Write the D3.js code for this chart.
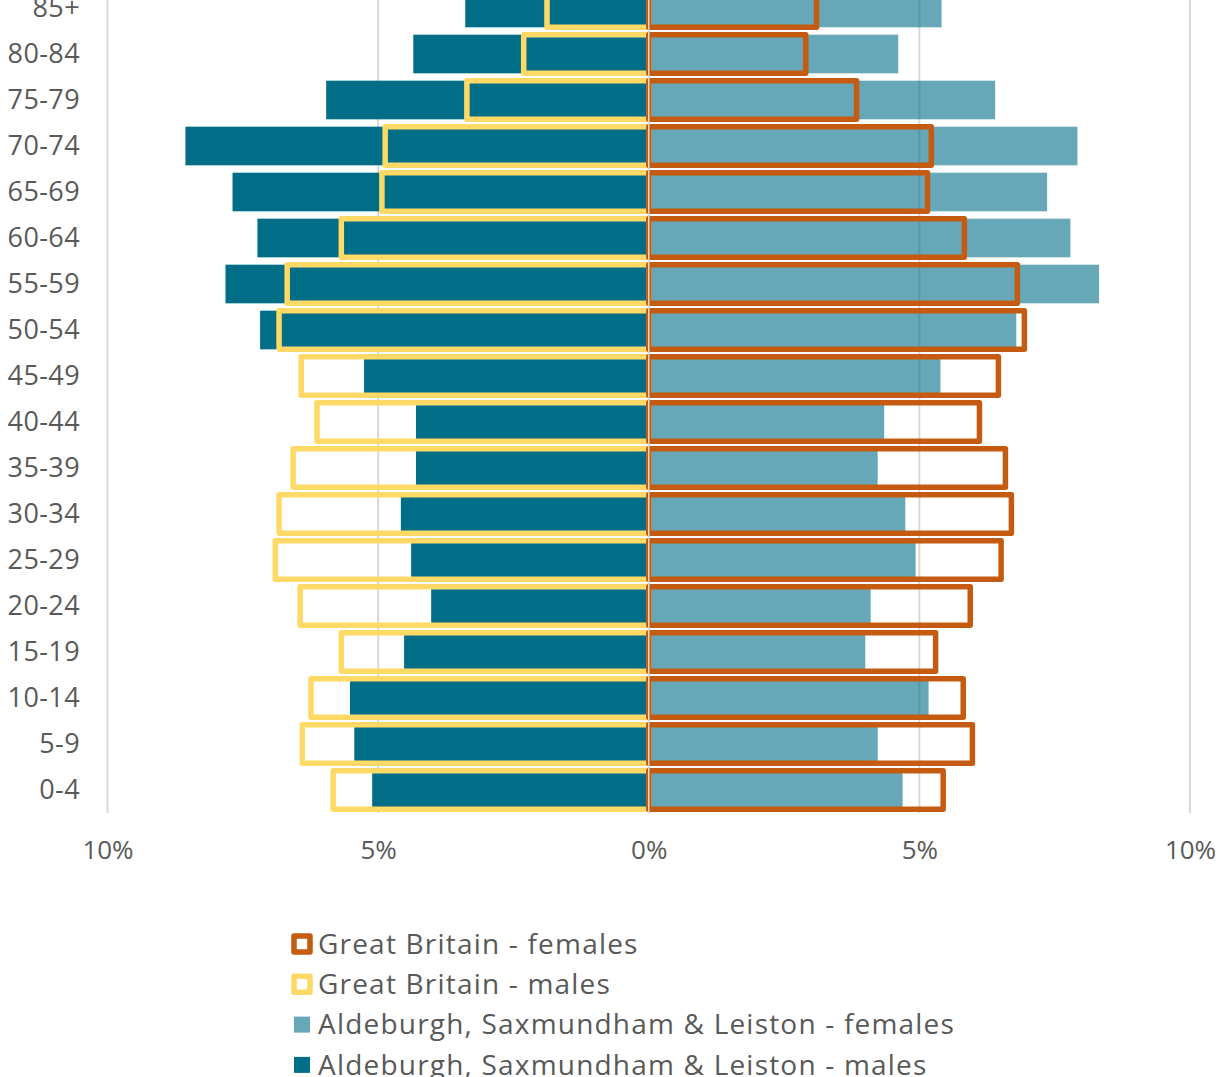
<!DOCTYPE html>
<html>
<head>
<meta charset="utf-8">
<script src="https://cdn.jsdelivr.net/npm/d3@7"></script>
<style>
  body { margin: 0; background: #fff; overflow: hidden; }
  text { font-family: "Open Sans", "Lato", sans-serif; fill: #595959; }
</style>
</head>
<body>
<script>
//DATA (percent of population)
const ages = ["0-4","5-9","10-14","15-19","20-24","25-29","30-34","35-39","40-44",
              "45-49","50-54","55-59","60-64","65-69","70-74","75-79","80-84","85+"];
const localMales   = [5.11, 5.44, 5.52, 4.52, 4.02, 4.39, 4.58, 4.30, 4.30,
                      5.26, 7.18, 7.82, 7.23, 7.69, 8.56, 5.96, 4.35, 3.39];
const localFemales = [4.69, 4.23, 5.17, 4.00, 4.10, 4.93, 4.74, 4.23, 4.35,
                      5.39, 6.79, 8.32, 7.79, 7.36, 7.92, 6.40, 4.61, 5.41];
const gbMales      = [5.83, 6.40, 6.24, 5.68, 6.44, 6.90, 6.83, 6.57, 6.13,
                      6.42, 6.83, 6.68, 5.68, 4.93, 4.87, 3.36, 2.31, 1.88];
const gbFemales    = [5.44, 5.98, 5.81, 5.30, 5.94, 6.51, 6.70, 6.59, 6.11,
                      6.46, 6.94, 6.81, 5.83, 5.15, 5.22, 3.84, 2.90, 3.10];
const xTicks = [-10, -5, 0, 5, 10];
const legendItems = [
  {label: "Great Britain - females", type: "outline", color: "#c55a11"},
  {label: "Great Britain - males", type: "outline", color: "#ffd966"},
  {label: "Aldeburgh, Saxmundham & Leiston - females", type: "fill", color: "#006e87", opacity: 0.6},
  {label: "Aldeburgh, Saxmundham & Leiston - males", type: "fill", color: "#006e87", opacity: 1}
];

//USEFUL VARIABLES
const svgwidth = 1229;
const svgheight = 1077;
const dark = "#006e87";

const rows = ages.map((a, i) => ({
  age: a,
  lm: localMales[i], lf: localFemales[i],
  gm: gbMales[i], gf: gbFemales[i]
}));

const svg = d3.select("body").append("svg")
  .attr("width", svgwidth)
  .attr("height", svgheight);

//SCALES
const x = d3.scaleLinear().domain([-10, 10]).range([107.5, 1190]);
const y = d3.scaleBand()
  .domain(ages.slice().reverse())
  .range([-15, 813])
  .paddingInner(0.16)
  .paddingOuter(0.08);

//GRIDLINES
svg.append("g").selectAll("line")
  .data(xTicks)
  .join("line")
  .attr("x1", d => x(d)).attr("x2", d => x(d))
  .attr("y1", -15).attr("y2", 813)
  .attr("stroke", "#d9d9d9")
  .attr("stroke-width", 2);

//LOCAL MALES
svg.append("g").selectAll("rect")
  .data(rows)
  .join("rect")
  .attr("x", d => x(-d.lm))
  .attr("width", d => x(0) - x(-d.lm))
  .attr("y", d => y(d.age))
  .attr("height", y.bandwidth())
  .attr("fill", dark);

//LOCAL FEMALES
svg.append("g").selectAll("rect")
  .data(rows)
  .join("rect")
  .attr("x", x(0))
  .attr("width", d => x(d.lf) - x(0))
  .attr("y", d => y(d.age))
  .attr("height", y.bandwidth())
  .attr("fill", dark)
  .attr("fill-opacity", 0.6);

//GB MALES (OUTLINE)
svg.append("g").selectAll("rect")
  .data(rows)
  .join("rect")
  .attr("x", d => x(-d.gm))
  .attr("width", d => x(0) - x(-d.gm))
  .attr("y", d => y(d.age))
  .attr("height", y.bandwidth())
  .attr("fill", "none")
  .attr("stroke", "#ffd966")
  .attr("stroke-width", 5.5)
  .attr("stroke-linejoin", "round");

//GB FEMALES (OUTLINE)
svg.append("g").selectAll("rect")
  .data(rows)
  .join("rect")
  .attr("x", x(0))
  .attr("width", d => x(d.gf) - x(0))
  .attr("y", d => y(d.age))
  .attr("height", y.bandwidth())
  .attr("fill", "none")
  .attr("stroke", "#c55a11")
  .attr("stroke-width", 5.5)
  .attr("stroke-linejoin", "round");

//ZERO LINE
svg.append("line")
  .attr("x1", x(0)).attr("x2", x(0))
  .attr("y1", -15).attr("y2", 813)
  .attr("stroke", "#d9d9d9")
  .attr("stroke-width", 1.5);

//Y AXIS LABELS
const yaxis = svg.append("g")
  .attr("transform", "translate(80,0)")
  .call(d3.axisLeft(y).tickSize(0).tickPadding(0));
yaxis.select(".domain").remove();
yaxis.selectAll("text")
  .style("font-size", "27px")
  .style("letter-spacing", "0.4px")
  .attr("fill", "#595959");

//X AXIS LABELS
const xaxis = svg.append("g")
  .attr("transform", "translate(0,841)")
  .call(d3.axisBottom(x).tickValues(xTicks).tickSize(0).tickPadding(0)
    .tickFormat(d => Math.abs(d) + "%"));
xaxis.select(".domain").remove();
xaxis.selectAll("text")
  .style("font-size", "26px")
  .attr("fill", "#595959");

//LEGEND
const legend = svg.append("g").attr("transform", "translate(302,944)");
const item = legend.selectAll("g")
  .data(legendItems)
  .join("g")
  .attr("transform", (d, i) => `translate(0, ${i * 40.3})`);

item.filter(d => d.type === "outline").append("rect")
  .attr("x", -8).attr("y", -8)
  .attr("width", 16).attr("height", 16)
  .attr("fill", "#fff")
  .attr("stroke", d => d.color)
  .attr("stroke-width", 5.5)
  .attr("stroke-linejoin", "round");

item.filter(d => d.type === "fill").append("rect")
  .attr("x", -8).attr("y", -8)
  .attr("width", 16).attr("height", 16)
  .attr("fill", d => d.color)
  .attr("fill-opacity", d => d.opacity);

item.append("text")
  .attr("x", 16)
  .attr("dy", "0.35em")
  .style("font-size", "28px")
  .style("letter-spacing", "1.2px")
  .text(d => d.label);
</script>
</body>
</html>
